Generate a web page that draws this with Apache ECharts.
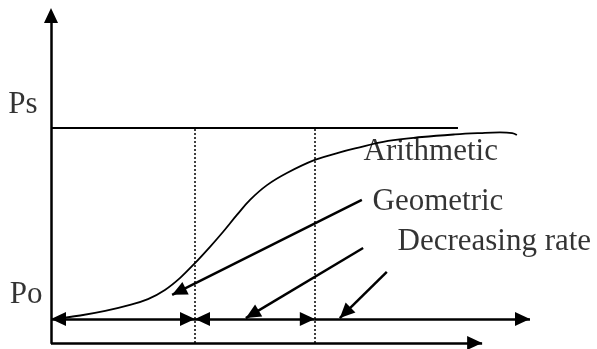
<!DOCTYPE html>
<html>
<head>
<meta charset="utf-8">
<script src="https://cdn.jsdelivr.net/npm/echarts@6/dist/echarts.min.js"></script>
<style>
  html, body { margin: 0; padding: 0; background: #fff; }
  #chart { width: 597px; height: 349px; }
</style>
</head>
<body>
<div id="chart"></div>
<script>
// ---- data (chart units: x = time, y = population) ----
const curveX = [0.5, 6.9, 12.8, 18.2, 22.9, 26.9, 30.5, 34.0, 37.5, 40.6, 43.9, 47.0, 51.0, 55.7, 62.3, 68.2, 71.8, 79.6, 87.6, 95.4, 101.3, 106.0, 108.9, 110.0];
const curveY = [7.3, 8.4, 9.8, 11.5, 13.4, 16.2, 19.9, 24.4, 29.3, 33.9, 39.1, 43.7, 48.2, 51.9, 55.9, 58.2, 59.4, 61.7, 62.9, 63.7, 64.1, 64.3, 64.1, 63.5];
const psLevel = 65.8;          // saturation population
const poLevel = 7.3;           // initial population
const psLineEnd = 96.1;
const timeAxisEnd = 101.8;     // end of the drawn time axis
const phaseBounds = [0, 34.0, 62.3, 113.1];
const arrowFromX = [73.4, 73.7, 79.3];
const arrowFromY = [43.7, 29.0, 21.7];
const arrowToX = [28.6, 46.0, 68.2];
const arrowToY = [14.7, 7.6, 7.6];
const textNames = ['Arithmetic', 'Geometric', 'Decreasing rate'];
const textX = [73.7, 75.8, 81.7];
const textY = [58.5, 43.2, 31.0];
const levelNames = ['Ps', 'Po'];
const levelLabelY = [72.8, 14.8];

// ---- build options ----
const FONT = 'Liberation Serif';
const ARROW = [14, 15];
const OFF = [[0, 7.5], [0, 7.5]];

const curveData = curveX.map((x, i) => [x, curveY[i]]);

const guideLines = [
  [{ coord: [0, psLevel] }, { coord: [psLineEnd, psLevel] }]
];
const dottedLines = [phaseBounds[1], phaseBounds[2]].map(x => [
  { coord: [x, 0] }, { coord: [x, psLevel] }
]);
const phaseArrows = [
  [{ coord: [phaseBounds[0], poLevel], symbol: 'triangle' }, { coord: [phaseBounds[1], poLevel], symbol: 'triangle' }],
  [{ coord: [phaseBounds[1], poLevel], symbol: 'triangle' }, { coord: [phaseBounds[2], poLevel], symbol: 'triangle' }],
  [{ coord: [phaseBounds[2], poLevel], symbol: 'none' }, { coord: [phaseBounds[3], poLevel], symbol: 'triangle' }]
];
const pointerArrows = arrowFromX.map((x, i) => [
  { coord: [x, arrowFromY[i]], symbol: 'none' },
  { coord: [arrowToX[i], arrowToY[i]], symbol: 'triangle' }
]);
const timeAxisLine = [
  [{ coord: [0, 0], symbol: 'none' }, { coord: [timeAxisEnd, 0], symbol: 'triangle' }]
];

const textData = textNames.map((n, i) => ({ name: n, value: [textX[i], textY[i]] }));
const levelData = levelNames.map((n, i) => ({
  name: n, value: [0, levelLabelY[i]],
  label: { distance: n === 'Ps' ? 13 : 8 }
}));

const chart = echarts.init(document.getElementById('chart'), null, { renderer: 'canvas' });
chart.setOption({
  animation: false,
  backgroundColor: '#ffffff',
  grid: { left: 51, right: 37.8, top: 15.5, bottom: 6 },
  xAxis: {
    type: 'value', min: 0, max: 120,
    axisLine: { show: false },
    axisTick: { show: false }, axisLabel: { show: false }, splitLine: { show: false }
  },
  yAxis: {
    type: 'value', min: 0, max: 100,
    axisLine: { show: true, onZero: false, symbol: ['none', 'triangle'], symbolSize: [14, 15],
      lineStyle: { color: '#000', width: 2.5 } },
    axisTick: { show: false }, axisLabel: { show: false }, splitLine: { show: false }
  },
  series: [
    {
      type: 'line', data: curveData, smooth: 0.4, clip: false, showSymbol: false, symbol: 'none',
      lineStyle: { color: '#000', width: 1.8 }, silent: true, z: 3
    },
    {
      type: 'line', data: [], silent: true, z: 2,
      markLine: {
        silent: true, symbol: ['none', 'none'], label: { show: false },
        lineStyle: { color: '#000', width: 2, type: 'solid' },
        emphasis: { disabled: true },
        data: guideLines
      }
    },
    {
      type: 'line', data: [], silent: true, z: 2,
      markLine: {
        silent: true, symbol: ['none', 'none'], label: { show: false },
        lineStyle: { color: '#000', width: 1.5, type: [2, 2] },
        emphasis: { disabled: true },
        data: dottedLines
      }
    },
    {
      type: 'line', data: [], silent: true, z: 4,
      markLine: {
        silent: true, symbolSize: ARROW, symbolOffset: OFF, label: { show: false },
        lineStyle: { color: '#000', width: 2.5, type: 'solid' },
        itemStyle: { color: '#000' },
        emphasis: { disabled: true },
        data: phaseArrows.concat(pointerArrows)
      }
    },
    {
      type: 'line', data: [], silent: true, z: 4,
      markLine: {
        silent: true, symbolSize: [14, 15], symbolOffset: OFF, label: { show: false },
        lineStyle: { color: '#000', width: 2.5, type: 'solid' },
        itemStyle: { color: '#000' },
        emphasis: { disabled: true },
        data: timeAxisLine
      }
    },
    {
      type: 'scatter', data: textData, clip: false, symbolSize: 1, silent: true, z: 5,
      itemStyle: { color: 'rgba(0,0,0,0)' },
      label: { show: true, position: 'right', distance: 0, formatter: '{b}',
        color: '#000', fontFamily: FONT, fontSize: 31, align: 'left', verticalAlign: 'middle' }
    },
    {
      type: 'scatter', data: levelData, clip: false, symbolSize: 1, silent: true, z: 5,
      itemStyle: { color: 'rgba(0,0,0,0)' },
      label: { show: true, position: 'left', formatter: '{b}',
        color: '#000', fontFamily: FONT, fontSize: 31, align: 'right', verticalAlign: 'middle' }
    }
  ]
});
</script>
</body>
</html>
